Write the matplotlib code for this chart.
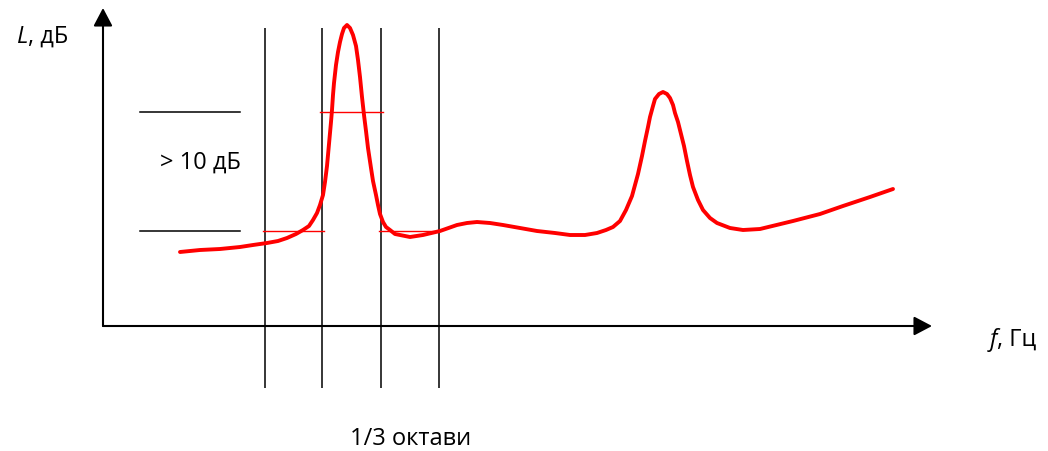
import numpy as np
import matplotlib
matplotlib.use("Agg")
import matplotlib.pyplot as plt

# spectrum curve (f, L) in schematic units, origin at the axes corner
f_vals = np.array([77, 97, 117, 137, 150, 164, 175, 184, 193, 200,
                   206, 210, 214, 217, 220, 222, 224, 226, 228, 229,
                   230, 231, 233, 235, 237, 239, 241, 244, 247, 250,
                   253, 255, 257, 259, 261, 263, 265, 268, 270, 273,
                   275, 277, 280, 283, 287, 292, 297, 307, 320, 337,
                   354, 364, 374, 387, 400, 417, 434, 452, 467, 482,
                   494, 503, 510, 517, 523, 529, 535, 539, 542, 545,
                   547, 550, 552, 556, 560, 564, 567, 570, 572, 575,
                   577, 581, 584, 587, 590, 595, 600, 607, 614, 627,
                   640, 657, 690, 717, 740, 767, 790])
L_vals = np.array([74, 76, 77, 79, 81, 83, 85, 88, 92, 96,
                   100, 106, 113, 121, 131, 144, 160, 182, 204, 216,
                   231, 243, 261, 274, 284, 292, 298, 301, 298, 291,
                   280, 266, 249, 229, 211, 195, 178, 158, 145, 131,
                   121, 112, 104, 99, 96, 92, 91, 89, 91, 95,
                   101, 103, 104, 103, 101, 98, 95, 93, 91, 91,
                   93, 96, 99, 105, 116, 130, 152, 170, 185, 199,
                   209, 220, 227, 232, 234, 232, 228, 221, 213, 204,
                   196, 180, 165, 151, 139, 126, 116, 108, 103, 98,
                   96, 97, 105, 112, 120, 129, 137])

# third-octave band edges and levels
band_edges = [162, 219, 278, 336]
band_levels = [95, 214, 95]
ref_levels = [214, 95]

fig = plt.figure(figsize=(10.48, 4.51), dpi=100)
ax = fig.add_axes([0, 0, 1, 1])
ax.set_xlim(-103, 945)
ax.set_ylim(-125, 326)
ax.axis("off")

fam = ["Open Sans", "DejaVu Sans"]
fs = 17

# axes with arrows
arr = dict(arrowstyle="-|>,head_length=0.55,head_width=0.29", mutation_scale=20,
           color="black", lw=1.5, shrinkA=0, shrinkB=0)
ax.annotate("", xy=(829, 0), xytext=(0, 0), arrowprops=arr)
ax.annotate("", xy=(0, 318), xytext=(0, 0), arrowprops=arr)

# vertical band lines
for x in band_edges:
    ax.plot([x, x], [-62, 298], color="black", lw=1.1, solid_capstyle="butt")

# reference level lines on the left
for y in ref_levels:
    ax.plot([37, 137], [y, y], color="black", lw=1.1)

# red band level marks
for i, y in enumerate(band_levels):
    x0, x1 = band_edges[i], band_edges[i + 1]
    ax.plot([x0 - 2, x1 + 2 if i < 2 else x1], [y, y], color="red", lw=1.0)

ax.plot(f_vals, L_vals, color="red", lw=2.8, solid_joinstyle="round",
        solid_capstyle="round")

ax.text(-86, 289, "L", style="italic", family=fam, fontsize=fs, va="center", ha="left")
ax.text(-75, 289, ", дБ", family=fam, fontsize=fs, va="center", ha="left")
ax.text(887, -14, "f", style="italic", family=fam, fontsize=fs, va="center", ha="left")
ax.text(894, -14, ", Гц", family=fam, fontsize=fs, va="center", ha="left")
ax.text(57, 163, "> 10 дБ", family=fam, fontsize=fs, va="center", ha="left")
ax.text(247, -113, "1/3 октави", family=fam, fontsize=fs, va="center", ha="left")

fig.savefig("out.png", dpi=100)
